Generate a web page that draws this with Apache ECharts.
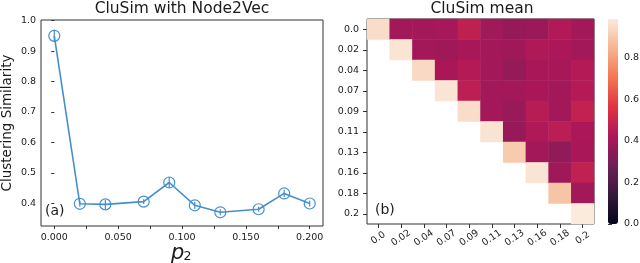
<!DOCTYPE html>
<html><head><meta charset="utf-8">
<script src="https://cdn.jsdelivr.net/npm/echarts@6/dist/echarts.min.js"></script>
<style>html,body{margin:0;padding:0;background:#fff}#c{width:640px;height:263px}</style>
</head><body><div id="c"></div>
<script>
const p2Values = [0, 0.02, 0.04, 0.07, 0.09, 0.11, 0.13, 0.16, 0.18, 0.2];
const clusimValues = [0.95, 0.398, 0.396, 0.405, 0.468, 0.393, 0.370, 0.380, 0.432, 0.399];
const clusimErrors = [0.02, 0.01, 0.015, 0.008, 0.018, 0.012, 0.01, 0.008, 0.012, 0.01];
const xTickValues = [0, 0.025, 0.05, 0.075, 0.1, 0.125, 0.15, 0.175, 0.2];
const xLabelValues = [0, 0.05, 0.1, 0.15, 0.2];
const yTickValues = [0.4, 0.5, 0.6, 0.7, 0.8, 0.9, 1.0];
const heatLabels = ['0.0','0.02','0.04','0.07','0.09','0.11','0.13','0.16','0.18','0.2'];
const heatMatrix = [
  [0.95, 0.398, 0.396, 0.405, 0.468, 0.393, 0.370, 0.380, 0.432, 0.399],
  [null, 0.97, 0.40, 0.39, 0.41, 0.40, 0.39, 0.43, 0.42, 0.40],
  [null, null, 0.94, 0.415, 0.44, 0.40, 0.365, 0.415, 0.41, 0.44],
  [null, null, null, 0.97, 0.46, 0.40, 0.40, 0.415, 0.40, 0.44],
  [null, null, null, null, 0.95, 0.40, 0.375, 0.45, 0.40, 0.475],
  [null, null, null, null, null, 0.965, 0.372, 0.43, 0.455, 0.42],
  [null, null, null, null, null, null, 0.90, 0.40, 0.355, 0.415],
  [null, null, null, null, null, null, null, 0.97, 0.39, 0.47],
  [null, null, null, null, null, null, null, null, 0.885, 0.40],
  [null, null, null, null, null, null, null, null, null, 0.985]
];
const colorbarTicks = [0, 0.2, 0.4, 0.6, 0.8];
const rocket = ['#03051a','#35193e','#701f57','#ad1759','#e13342','#f37651','#f6b48f','#faebdd'];

const heatData = [];
heatMatrix.forEach((row, i) => row.forEach((v, j) => { if (v !== null) heatData.push([j, i, v]); }));
const lineData = p2Values.map((x, i) => [x, clusimValues[i]]);
const errData = p2Values.map((x, i) => [x, clusimValues[i], clusimErrors[i]]);

const blue = '#4590cc';
const txt = '#1a1a1a';
const axisCol = '#333';
const font = 'DejaVu Sans';

const chart = echarts.init(document.getElementById('c'), null, {renderer: 'canvas'});
chart.setOption({
  animation: false,
  textStyle: {fontFamily: font},
  grid: [
    {left: 41, top: 20, width: 282, height: 206, show: true, borderColor: axisCol, borderWidth: 1, outerBoundsMode: 'none', containLabel: false},
    {left: 367, top: 19, width: 227, height: 205, show: true, borderColor: axisCol, borderWidth: 1, outerBoundsMode: 'none', containLabel: false},
    {left: 608, top: 19, width: 10, height: 205, show: false, outerBoundsMode: 'none', containLabel: false}
  ],
  xAxis: [
    {gridIndex: 0, type: 'value', min: -0.0104, max: 0.2104,
     splitLine: {show: false}, axisLine: {show: false},
     axisTick: {show: true, length: 3, customValues: xTickValues, lineStyle: {color: axisCol}},
     axisLabel: {customValues: xLabelValues, fontSize: 9.5, color: txt, margin: 7, fontFamily: font,
       formatter: v => v.toFixed(3)}},
    {gridIndex: 1, type: 'category', data: heatLabels, splitLine: {show: false},
     axisLine: {show: false},
     axisTick: {show: true, length: 4, alignWithLabel: true, lineStyle: {color: axisCol}},
     axisLabel: {fontSize: 9.5, color: txt, rotate: 35, align: 'center', verticalAlign: 'middle', margin: 14, fontFamily: font, interval: 0}},
    {gridIndex: 2, type: 'value', show: false, min: 0, max: 1}
  ],
  yAxis: [
    {gridIndex: 0, type: 'value', min: 0.325, max: 1.002, z: 20,
     name: 'Clustering Similarity', nameLocation: 'middle', nameGap: 27, nameRotate: 90,
     nameMoveOverlap: false,
     nameTextStyle: {fontSize: 13.5, color: txt, fontFamily: font},
     splitLine: {show: false}, axisLine: {show: false},
     axisTick: {show: true, length: 3, customValues: yTickValues, lineStyle: {color: axisCol}},
     axisLabel: {customValues: yTickValues, fontSize: 9.5, color: txt, margin: 5, fontFamily: font, hideOverlap: false,
       formatter: v => Number(v).toFixed(1)}},
    {gridIndex: 1, type: 'category', data: heatLabels, inverse: true, splitLine: {show: false},
     axisLine: {show: false},
     axisTick: {show: true, length: 4, alignWithLabel: true, lineStyle: {color: axisCol}},
     axisLabel: {fontSize: 9.5, color: txt, margin: 8, fontFamily: font, interval: 0}},
    {gridIndex: 2, type: 'value', position: 'right', min: 0, max: 0.985,
     splitLine: {show: false}, axisLine: {show: false},
     axisTick: {show: true, length: 4, customValues: colorbarTicks, lineStyle: {color: axisCol}},
     axisLabel: {customValues: colorbarTicks, fontSize: 9.5, color: txt, margin: 6, fontFamily: font,
       formatter: v => v.toFixed(1)}}
  ],
  visualMap: {
    type: 'continuous', seriesIndex: 2, min: 0, max: 0.985, calculable: false,
    orient: 'vertical', left: 608, top: 19, itemWidth: 10, itemHeight: 205, padding: 0,
    text: null, showLabel: false, inRange: {color: rocket}, hoverLink: false
  },
  series: [
    {type: 'line', xAxisIndex: 0, yAxisIndex: 0, data: lineData, symbol: 'circle', symbolSize: 11,
     lineStyle: {color: blue, width: 1.6}, itemStyle: {color: 'rgba(0,0,0,0)', borderColor: blue, borderWidth: 1.2},
     emphasis: {disabled: true}, z: 3},
    {type: 'custom', xAxisIndex: 0, yAxisIndex: 0, data: errData, z: 4,
     renderItem: (params, api) => {
       const x = api.value(0), y = api.value(1), e = api.value(2);
       const a = api.coord([x, y + e]), b = api.coord([x, y - e]);
       return {type: 'line', shape: {x1: a[0], y1: a[1], x2: b[0], y2: b[1]}, style: {stroke: blue, lineWidth: 1.2}};
     }},
    {type: 'heatmap', xAxisIndex: 1, yAxisIndex: 1, data: heatData, emphasis: {disabled: true}},
    {type: 'scatter', xAxisIndex: 2, yAxisIndex: 2, data: [], silent: true}
  ],
  graphic: [
    {type: 'text', x: 182, y: 1, style: {text: 'CluSim with Node2Vec', font: '15.5px "DejaVu Sans"', fill: txt, textAlign: 'center', textVerticalAlign: 'top'}},
    {type: 'text', x: 482, y: 1, style: {text: 'CluSim mean', font: '15.5px "DejaVu Sans"', fill: txt, textAlign: 'center', textVerticalAlign: 'top'}},
    {type: 'text', x: 45, y: 211, style: {text: '(a)', font: '14px "DejaVu Sans"', fill: txt, textAlign: 'left', textVerticalAlign: 'middle'}},
    {type: 'text', x: 375, y: 210, style: {text: '(b)', font: '14px "DejaVu Sans"', fill: txt, textAlign: 'left', textVerticalAlign: 'middle'}},
    {type: 'text', x: 171, y: 254, style: {text: 'p', font: 'italic 21px "DejaVu Sans"', fill: txt, textAlign: 'left', textVerticalAlign: 'middle'}},
    {type: 'text', x: 183.5, y: 256.5, style: {text: '2', font: '12.5px "DejaVu Sans"', fill: txt, textAlign: 'left', textVerticalAlign: 'middle'}}
  ]
});
</script></body></html>
